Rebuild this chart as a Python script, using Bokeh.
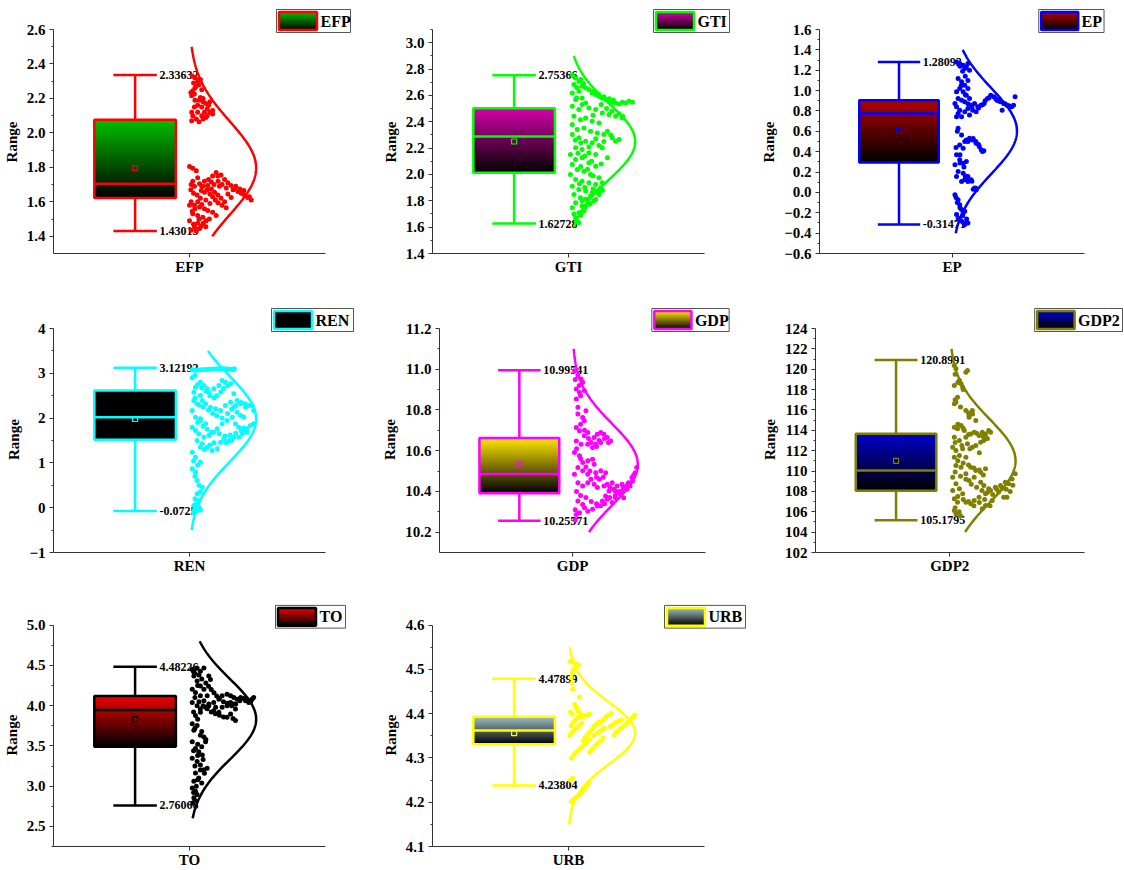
import numpy as np
from bokeh.plotting import figure
from bokeh.layouts import column, row
from bokeh.models import Range1d, FixedTicker, CustomJSTickFormatter
from bokeh.core.properties import value
from bokeh.embed import file_html
from bokeh.resources import INLINE

FONT = "Liberation Serif"

# ---------------- data ----------------
names = ["EFP", "GTI", "EP", "REN", "GDP", "GDP2", "TO", "URB"]
line_colors = ["#FF0000", "#00FF00", "#0000FF", "#00FFFF", "#FF00FF", "#808000", "#000000", "#FFFF00"]
grad_colors = ["#00C000", "#D600AA", "#B00000", "#000000", "#FFE600", "#0000CC", "#EE0000", "#A3C1C3"]

q1 = [1.622, 2.013, 0.293, 1.515, 10.391, 108.06, 3.489, 4.331]
med = [1.705, 2.288, 0.776, 2.020, 10.486, 110.06, 3.946, 4.362]
q3 = [2.076, 2.502, 0.906, 2.616, 10.662, 113.66, 4.121, 4.393]
means = [1.796, 2.250, 0.603, 1.980, 10.532, 111.00, 3.832, 4.356]
mins = [1.43015, 1.62728, -0.31471, -0.0725, 10.25571, 105.1795, 2.76066, 4.23804]
maxs = [2.33632, 2.75366, 1.28092, 3.12192, 10.99541, 120.8991, 4.48226, 4.47899]

curve_sd = [0.27, 0.29, 0.42, 0.95, 0.20, 4.1, 0.50, 0.07]
curve_lo = [1.40, 1.60, -0.40, -0.50, 10.20, 104.0, 2.60, 4.15]
curve_hi = [2.50, 2.90, 1.40, 3.50, 11.10, 122.0, 4.80, 4.55]

axis_lo = [1.3, 1.4, -0.6, -1.0, 10.1, 102.0, 2.25, 4.1]
axis_hi = [2.6, 3.1, 1.6, 4.0, 11.2, 124.0, 5.0, 4.6]
tick_lists = [
    [1.4, 1.6, 1.8, 2.0, 2.2, 2.4, 2.6],
    [1.4, 1.6, 1.8, 2.0, 2.2, 2.4, 2.6, 2.8, 3.0],
    [-0.6, -0.4, -0.2, 0.0, 0.2, 0.4, 0.6, 0.8, 1.0, 1.2, 1.4, 1.6],
    [-1, 0, 1, 2, 3, 4],
    [10.2, 10.4, 10.6, 10.8, 11.0, 11.2],
    [102, 104, 106, 108, 110, 112, 114, 116, 118, 120, 122, 124],
    [2.5, 3.0, 3.5, 4.0, 4.5, 5.0],
    [4.1, 4.2, 4.3, 4.4, 4.5, 4.6],
]
tick_decimals = [1, 1, 1, 0, 1, 0, 1, 1]

# scatter points: (horizontal jitter offset, value)
efp_pts = [(0.010,2.330),(0.020,2.320),(0.030,2.300),(0.035,2.280),(0.025,2.270),(0.012,2.245),(0.018,2.225),(0.008,2.215),
 (0.040,2.205),(0.035,2.190),(0.050,2.180),(0.060,2.170),(0.070,2.160),(0.018,2.150),(0.045,2.150),(0.065,2.140),(0.085,2.130),
 (0.008,2.120),(0.030,2.120),(0.055,2.120),(0.012,2.100),(0.045,2.100),(0.065,2.100),(0.025,2.080),(0.050,2.080),(0.008,2.070),
 (0.035,2.065),(0.085,2.110),(0.075,2.180),(0.005,2.235),(0.020,2.260),(0.040,2.310),
 (0.015,2.290),(0.045,2.250),(0.030,2.160),(0.060,2.090),(0.020,2.190),(0.075,2.120),(0.050,2.200),
 (0.000,1.805),(0.012,1.795),(0.025,1.780),(0.006,1.700),(0.018,1.690),(0.037,1.705),(0.055,1.720),(0.067,1.695),(0.080,1.715),
 (0.098,1.770),(0.104,1.750),(0.116,1.755),(0.129,1.730),(0.141,1.710),(0.153,1.695),(0.165,1.675),(0.178,1.660),(0.190,1.650),
 (0.202,1.640),(0.214,1.625),(0.227,1.610),(0.043,1.665),(0.055,1.655),(0.080,1.675),(0.092,1.655),(0.104,1.640),(0.116,1.620),
 (0.129,1.600),(0.141,1.645),(0.153,1.625),(0.006,1.600),(0.018,1.580),(0.037,1.570),(0.055,1.560),(0.012,1.530),(0.030,1.520),
 (0.049,1.510),(0.067,1.550),(0.085,1.540),(0.098,1.520),(0.018,1.455),(0.037,1.445),(0.006,1.435),(0.025,1.430),(0.043,1.460),
 (0.061,1.490),(0.073,1.500),(0.000,1.490),(0.012,1.720),(0.030,1.740),(0.045,1.690),(0.090,1.700),(0.110,1.690),(0.135,1.680),
 (0.160,1.670),(0.060,1.610),(0.075,1.590),
 (0.005,1.670),(0.015,1.650),(0.028,1.640),(0.040,1.620),(0.050,1.690),(0.065,1.670),(0.075,1.645),(0.085,1.630),(0.095,1.610),
 (0.105,1.595),(0.120,1.580),(0.135,1.565),(0.020,1.560),(0.010,1.545),(0.045,1.585),(0.035,1.500),(0.050,1.475),(0.060,1.455),
 (0.000,1.580),(0.030,1.600),(0.070,1.730),(0.085,1.750),(0.105,1.720),(0.120,1.700),(0.170,1.690),(0.185,1.675),(0.200,1.665),
 (0.220,1.630),(0.030,1.475),(0.015,1.470)]

gti_pts = [(0.014,2.757),(0.026,2.732),(0.038,2.707),(0.020,2.682),(0.050,2.669),(0.063,2.656),(0.075,2.644),(0.038,2.631),
 (0.087,2.618),(0.100,2.606),(0.112,2.593),(0.124,2.581),(0.137,2.568),(0.149,2.555),(0.161,2.548),(0.173,2.543),(0.186,2.535),
 (0.198,2.548),(0.210,2.543),(0.222,2.555),(0.235,2.548),(0.014,2.618),(0.026,2.568),(0.050,2.581),(0.063,2.543),(0.014,2.517),
 (0.038,2.492),(0.075,2.505),(0.100,2.492),(0.124,2.467),(0.149,2.454),(0.173,2.442),(0.198,2.429),(0.020,2.442),(0.044,2.416),
 (0.063,2.429),(0.087,2.404),(0.112,2.391),(0.014,2.379),(0.032,2.341),(0.057,2.353),(0.081,2.328),(0.106,2.315),(0.130,2.303),
 (0.143,2.328),(0.161,2.278),(0.173,2.252),(0.186,2.265),(0.014,2.303),(0.038,2.278),(0.063,2.252),(0.087,2.240),(0.112,2.220),
 (0.124,2.202),(0.026,2.202),(0.050,2.189),(0.075,2.164),(0.100,2.151),(0.007,2.151),(0.026,2.113),(0.050,2.126),(0.075,2.088),
 (0.100,2.063),(0.143,2.126),(0.014,2.076),(0.032,2.038),(0.057,2.025),(0.081,2.000),(0.112,1.975),(0.007,2.000),(0.026,1.962),
 (0.050,1.949),(0.075,1.937),(0.100,1.924),(0.124,1.937),(0.014,1.911),(0.038,1.886),(0.063,1.874),(0.087,1.861),(0.112,1.848),
 (0.020,1.848),(0.044,1.823),(0.069,1.811),(0.093,1.798),(0.026,1.785),(0.050,1.760),(0.075,1.773),(0.014,1.747),(0.038,1.709),
 (0.057,1.722),(0.026,1.672),(0.038,1.634),(0.063,1.811),(0.081,1.836),(0.106,1.874),(0.118,1.899),
 (0.045,2.720),(0.055,2.690),(0.030,2.660),(0.090,2.630),(0.110,2.610),(0.130,2.590),(0.150,2.575),(0.165,2.565),(0.120,2.530),
 (0.140,2.500),(0.160,2.480),(0.185,2.460),(0.200,2.440),(0.030,2.580),(0.050,2.530),(0.090,2.450),(0.025,2.260),(0.045,2.240),
 (0.075,2.210),(0.100,2.270),(0.130,2.250),(0.155,2.300),(0.035,2.160),(0.060,2.140),(0.085,2.100),(0.120,2.080),(0.045,2.060),
 (0.070,2.040),(0.090,1.990),(0.040,1.930),(0.060,1.900),(0.090,1.890),(0.110,1.860),(0.125,1.880),(0.050,1.800),(0.080,1.780),
 (0.100,1.810),(0.060,1.750),(0.045,1.690),(0.020,1.700),(0.030,1.650)]

ep_pts = [(0.017,1.281),(0.029,1.265),(0.042,1.248),(0.054,1.232),(0.060,1.265),(0.048,1.216),(0.066,1.200),(0.023,1.118),
 (0.036,1.086),(0.048,1.053),(0.060,1.020),(0.029,1.020),(0.042,0.988),(0.054,0.955),(0.066,0.923),(0.017,0.988),(0.023,0.923),
 (0.036,0.906),(0.048,0.890),(0.011,0.874),(0.017,0.841),(0.029,0.808),(0.023,0.776),(0.036,0.743),(0.017,0.743),(0.048,0.792),
 (0.060,0.825),(0.072,0.857),(0.085,0.874),(0.097,0.841),(0.109,0.857),(0.121,0.874),(0.134,0.923),(0.146,0.955),(0.158,0.939),
 (0.170,0.906),(0.183,0.890),(0.195,0.874),(0.207,0.857),(0.219,0.841),(0.232,0.857),(0.238,0.939),(0.189,0.808),(0.078,0.808),
 (0.091,0.792),(0.066,0.760),
 (0.100,0.830),(0.115,0.860),(0.125,0.900),(0.140,0.930),(0.165,0.920),(0.175,0.900),(0.200,0.870),(0.215,0.850),(0.225,0.840),
 (0.030,1.240),(0.040,1.190),(0.050,1.140),(0.060,1.100),(0.035,1.050),(0.050,0.960),(0.060,0.870),(0.075,0.840),
 (0.036,0.564),(0.048,0.499),(0.029,0.466),(0.042,0.434),(0.054,0.515),(0.066,0.531),(0.078,0.515),(0.091,0.483),(0.103,0.450),
 (0.115,0.401),(0.017,0.369),(0.029,0.320),(0.042,0.287),(0.054,0.303),(0.011,0.271),(0.023,0.206),(0.042,0.189),(0.060,0.157),
 (0.072,0.124),(0.085,0.043),(0.091,0.026),(0.017,0.157),(0.036,0.108),(0.048,0.124),(0.060,0.108),(0.020,0.600),(0.015,0.440),
 (0.030,0.370),(0.023,0.629),
 (0.060,0.500),(0.070,0.520),(0.080,0.530),(0.090,0.500),(0.100,0.470),(0.110,0.420),(0.120,0.410),(0.030,0.290),(0.045,0.250),
 (0.050,0.160),(0.065,0.120),(0.075,0.110),(0.080,0.030),(0.090,0.040),
 (0.011,-0.023),(0.023,-0.071),(0.029,-0.120),(0.036,-0.169),(0.042,-0.202),(0.048,-0.186),(0.023,-0.251),(0.036,-0.283),
 (0.048,-0.316),(0.060,-0.300),(0.017,-0.218),(0.015,-0.050),(0.020,-0.100),(0.030,-0.150),(0.040,-0.230),(0.030,-0.270),
 (0.055,-0.260),(0.045,-0.300)]

ren_pts = [(0.010,3.080),(0.020,3.070),(0.030,3.075),(0.040,3.080),(0.050,3.080),(0.060,3.085),(0.070,3.090),(0.080,3.090),
 (0.090,3.095),(0.100,3.100),(0.110,3.100),(0.120,3.105),(0.130,3.100),(0.140,3.095),(0.150,3.090),(0.160,3.080),(0.165,3.100),
 (0.040,2.800),(0.053,2.728),(0.065,2.653),(0.022,2.690),(0.016,2.579),(0.040,2.505),(0.071,2.579),(0.089,2.653),(0.108,2.728),
 (0.120,2.840),(0.132,2.800),(0.151,2.765),(0.163,2.542),(0.175,2.393),(0.188,2.319),(0.206,2.244),(0.218,2.281),(0.230,2.281),
 (0.236,2.170),(0.016,2.393),(0.028,2.319),(0.047,2.393),(0.059,2.319),(0.077,2.244),(0.096,2.207),(0.114,2.170),(0.132,2.281),
 (0.151,2.356),(0.163,2.244),(0.175,2.133),(0.188,2.058),(0.200,2.021),(0.010,2.170),(0.022,2.021),(0.040,1.984),(0.010,1.798),
 (0.022,1.723),(0.034,1.649),(0.053,1.575),(0.071,1.612),(0.089,1.686),(0.102,1.761),(0.120,1.872),(0.138,1.947),(0.157,2.021),
 (0.169,1.872),(0.181,1.798),(0.200,1.686),(0.212,1.761),(0.224,1.835),(0.236,1.872),(0.028,1.500),(0.047,1.426),(0.065,1.352),
 (0.083,1.277),(0.102,1.314),(0.114,1.463),(0.126,1.537),(0.145,1.500),(0.163,1.575),(0.181,1.575),(0.194,1.649),(0.212,1.686),
 (0.010,1.240),(0.022,1.128),(0.040,1.017),(0.010,0.868),(0.022,0.794),(0.028,0.607),(0.047,0.459),(0.028,0.310),(0.034,0.161),
 (0.016,0.049),(0.022,-0.025),(0.028,-0.062),(0.016,-0.099),(0.034,0.012),(0.040,1.947),(0.059,1.872),
 (0.030,2.750),(0.045,2.670),(0.060,2.600),(0.075,2.500),(0.090,2.450),(0.100,2.500),(0.115,2.580),(0.125,2.660),(0.140,2.720),
 (0.020,2.450),(0.035,2.290),(0.050,2.250),(0.070,2.180),(0.085,2.100),(0.100,2.050),(0.120,2.000),(0.140,2.100),(0.155,2.200),
 (0.170,2.280),(0.190,2.350),(0.205,2.320),(0.030,1.900),(0.050,1.820),(0.065,1.750),(0.080,1.680),(0.110,1.650),(0.130,1.600),
 (0.150,1.620),(0.170,1.660),(0.190,1.720),(0.200,1.780),(0.040,1.350),(0.055,1.300),(0.075,1.400),(0.090,1.450),(0.135,1.450),
 (0.155,1.500),(0.015,1.050),(0.030,0.950),(0.020,0.700),(0.035,0.500),(0.040,0.350),(0.020,0.200),(0.025,0.080),(0.030,0.030),
 (0.040,-0.050),(0.015,-0.120),(0.010,2.900),(0.020,2.950)]

gdp_pts = [(0.007,10.993),(0.020,10.969),(0.032,10.952),(0.038,10.936),(0.014,10.903),(0.026,10.886),(0.044,10.895),(0.014,10.854),
 (0.020,10.813),(0.050,10.796),(0.038,10.763),(0.044,10.747),(0.014,10.714),(0.026,10.698),(0.057,10.689),(0.044,10.673),
 (0.081,10.665),(0.093,10.681),(0.106,10.689),(0.118,10.681),(0.130,10.665),(0.143,10.648),(0.014,10.648),(0.032,10.632),
 (0.057,10.632),(0.075,10.616),(0.087,10.632),(0.106,10.640),(0.007,10.591),(0.026,10.575),(0.038,10.542),(0.057,10.550),
 (0.075,10.558),(0.081,10.533),(0.020,10.517),(0.038,10.501),(0.057,10.484),(0.069,10.460),(0.087,10.492),(0.106,10.501),
 (0.124,10.492),(0.007,10.484),(0.020,10.443),(0.038,10.427),(0.057,10.443),(0.081,10.435),(0.093,10.419),(0.118,10.427),
 (0.130,10.435),(0.149,10.443),(0.167,10.427),(0.186,10.435),(0.198,10.419),(0.210,10.443),(0.223,10.468),(0.235,10.492),
 (0.241,10.517),(0.161,10.402),(0.180,10.386),(0.192,10.369),(0.137,10.402),(0.124,10.377),(0.112,10.353),(0.093,10.328),
 (0.075,10.312),(0.057,10.303),(0.038,10.336),(0.020,10.353),(0.014,10.287),(0.026,10.295),(0.130,10.361),(0.149,10.345),
 (0.161,10.369),(0.173,10.394),(0.204,10.410),(0.216,10.427),(0.010,10.260),
 (0.010,10.950),(0.025,10.920),(0.030,10.870),(0.020,10.780),(0.030,10.730),(0.045,10.700),(0.060,10.660),(0.070,10.640),
 (0.090,10.620),(0.100,10.650),(0.120,10.660),(0.135,10.640),(0.015,10.610),(0.030,10.560),(0.050,10.520),(0.065,10.500),
 (0.090,10.470),(0.100,10.460),(0.115,10.470),(0.140,10.420),(0.155,10.410),(0.175,10.400),(0.190,10.420),(0.205,10.430),
 (0.225,10.450),(0.230,10.480),(0.015,10.400),(0.030,10.380),(0.050,10.370),(0.070,10.350),(0.090,10.340),(0.105,10.330),
 (0.120,10.340),(0.140,10.370),(0.160,10.380),(0.185,10.400),(0.045,10.320),(0.010,10.310)]

gdp2_pts = [(0.017,120.37),(0.023,120.04),(0.036,118.89),(0.042,118.57),(0.017,118.40),(0.048,118.24),(0.060,119.71),(0.066,119.88),
 (0.023,116.76),(0.017,116.60),(0.029,117.26),(0.060,115.95),(0.072,115.45),(0.084,115.95),(0.017,114.31),(0.029,114.15),
 (0.042,114.47),(0.054,113.98),(0.017,113.33),(0.036,113.00),(0.060,113.33),(0.078,113.65),(0.091,113.82),(0.109,113.49),
 (0.121,113.82),(0.133,113.65),(0.145,113.98),(0.152,113.82),(0.072,115.29),(0.097,114.96),(0.011,112.34),(0.023,112.02),
 (0.048,112.18),(0.066,112.67),(0.084,112.34),(0.097,112.51),(0.115,112.84),(0.127,113.00),(0.133,113.16),(0.017,111.36),
 (0.036,111.53),(0.060,111.36),(0.078,110.38),(0.097,110.05),(0.115,109.89),(0.133,110.22),(0.023,110.54),(0.042,110.38),
 (0.060,109.73),(0.072,109.07),(0.091,109.40),(0.115,108.91),(0.127,108.58),(0.145,108.25),(0.011,109.40),(0.023,108.74),
 (0.036,108.25),(0.048,107.76),(0.017,107.27),(0.029,106.94),(0.011,108.09),(0.060,106.94),(0.078,106.78),(0.091,107.11),
 (0.109,107.43),(0.133,107.76),(0.152,108.09),(0.170,108.42),(0.189,108.58),(0.207,108.91),(0.219,108.74),(0.232,109.23),
 (0.244,109.73),(0.182,107.93),(0.201,107.43),(0.213,107.43),(0.158,107.11),(0.133,106.62),(0.121,106.29),(0.023,105.80),
 (0.017,106.12),
 (0.020,119.50),(0.030,118.70),(0.050,118.00),(0.020,117.00),(0.040,116.30),(0.070,115.70),(0.085,115.60),(0.030,114.60),
 (0.050,114.20),(0.070,113.60),(0.100,113.70),(0.125,113.40),(0.140,113.20),(0.020,112.80),(0.045,112.50),(0.075,112.20),
 (0.110,111.80),(0.030,111.00),(0.050,110.80),(0.070,110.60),(0.090,110.30),(0.110,110.10),(0.125,109.60),(0.020,109.90),
 (0.040,109.50),(0.060,109.20),(0.080,108.70),(0.100,108.40),(0.120,108.10),(0.140,107.90),(0.160,107.70),(0.175,108.20),
 (0.195,108.30),(0.210,108.20),(0.225,108.00),(0.235,108.60),(0.030,107.50),(0.050,107.20),(0.070,107.00),(0.090,106.60),
 (0.110,106.90),(0.130,107.20),(0.150,106.60),(0.020,106.40),(0.035,106.00),(0.040,105.60)]

to_pts = [(0.010,4.449),(0.028,4.469),(0.040,4.428),(0.053,4.469),(0.016,4.367),(0.028,4.306),(0.040,4.244),(0.053,4.204),
 (0.065,4.122),(0.071,4.367),(0.077,4.326),(0.010,4.204),(0.022,4.163),(0.040,4.122),(0.053,4.060),(0.010,4.040),(0.028,3.999),
 (0.040,3.958),(0.059,3.979),(0.071,4.020),(0.089,4.040),(0.108,4.081),(0.120,4.122),(0.138,4.142),(0.151,4.122),(0.163,4.101),
 (0.175,4.081),(0.188,4.101),(0.206,4.060),(0.218,4.040),(0.230,4.081),(0.236,4.101),(0.089,3.938),(0.108,3.918),(0.120,3.979),
 (0.138,3.999),(0.151,4.040),(0.163,4.020),(0.169,3.958),(0.151,3.897),(0.138,3.856),(0.169,3.815),(0.022,3.877),(0.040,3.918),
 (0.010,3.775),(0.028,3.754),(0.016,3.693),(0.040,3.632),(0.053,3.611),(0.059,3.550),(0.010,3.550),(0.022,3.468),(0.034,3.427),
 (0.047,3.386),(0.010,3.346),(0.028,3.305),(0.040,3.264),(0.053,3.203),(0.065,3.223),(0.022,3.162),(0.034,3.100),(0.016,3.060),
 (0.010,2.978),(0.022,2.937),(0.016,2.856),(0.028,2.896),(0.071,3.999),(0.096,3.979),(0.012,2.790),(0.020,4.400),(0.030,4.250),
 (0.015,4.420),(0.035,4.380),(0.045,4.330),(0.060,4.280),(0.070,4.240),(0.080,4.200),(0.090,4.160),(0.100,4.120),(0.110,4.090),
 (0.125,4.050),(0.140,4.030),(0.155,4.000),(0.170,4.020),(0.185,4.060),(0.200,4.090),(0.215,4.070),(0.225,4.050),(0.020,4.100),
 (0.035,4.050),(0.050,4.000),(0.065,3.960),(0.080,3.920),(0.095,3.900),(0.110,3.880),(0.125,3.860),(0.160,3.840),(0.015,3.920),
 (0.030,3.830),(0.020,3.720),(0.045,3.680),(0.060,3.580),(0.030,3.520),(0.045,3.490),(0.015,3.440),(0.030,3.380),(0.050,3.330),
 (0.020,3.250),(0.040,3.200),(0.055,3.160),(0.030,3.080),(0.045,3.040),(0.025,3.000),(0.015,2.920),(0.020,2.820)]

urb_pts = [(0.007,4.518),(0.017,4.516),(0.027,4.513),(0.036,4.510),(0.017,4.499),(0.014,4.492),(0.023,4.502),(0.010,4.481),
 (0.014,4.470),(0.016,4.455),(0.040,4.438),(0.023,4.421),(0.029,4.414),(0.036,4.406),(0.042,4.401),(0.050,4.397),(0.059,4.395),
 (0.069,4.397),(0.077,4.400),(0.007,4.403),(0.014,4.399),(0.010,4.373),(0.017,4.380),(0.026,4.386),(0.034,4.391),(0.044,4.392),
 (0.005,4.352),(0.014,4.358),(0.022,4.364),(0.032,4.369),(0.040,4.374),(0.049,4.379),(0.054,4.339),(0.061,4.346),(0.069,4.352),
 (0.077,4.358),(0.086,4.365),(0.094,4.371),(0.103,4.377),(0.112,4.382),(0.093,4.351),(0.103,4.355),(0.113,4.360),(0.123,4.364),
 (0.132,4.367),(0.118,4.380),(0.127,4.386),(0.137,4.392),(0.147,4.397),(0.157,4.401),(0.154,4.371),(0.164,4.376),(0.174,4.380),
 (0.184,4.383),(0.194,4.386),(0.167,4.352),(0.176,4.358),(0.186,4.364),(0.196,4.369),(0.206,4.374),(0.216,4.380),(0.226,4.386),
 (0.235,4.391),(0.243,4.397),(0.078,4.313),(0.088,4.321),(0.098,4.328),(0.108,4.334),(0.118,4.339),(0.127,4.345),(0.010,4.300),
 (0.020,4.308),(0.029,4.313),(0.039,4.319),(0.049,4.325),(0.059,4.331),(0.069,4.337),(0.078,4.342),(0.007,4.250),(0.015,4.254),
 (0.010,4.202),(0.020,4.206),(0.029,4.211),(0.039,4.217),(0.049,4.223),(0.059,4.230),(0.069,4.239),(0.075,4.245)]

all_pts = [efp_pts, gti_pts, ep_pts, ren_pts, gdp_pts, gdp2_pts, to_pts, urb_pts]

# legend placement (px from the y axis) and box width (px)
legend_off = [223, 221, 225, 218, 217, 222, 222, 232]
legend_w = [74, 76, 67, 82, 79, 89, 70, 81]

# ---------------- layout ----------------
COL_W = [379, 379, 366]
COL_L = [53, 53, 53]
ROW_H = [300, 297, 273]
ROW_AT = [29, 28, 28]     # px of axis top from figure top
ROW_XA = [253, 252, 252]  # px of x axis from figure top
PXU = 272.0               # px per x unit
AMP = 0.245
BOX_L, BOX_R, BOX_C = 0.65, 0.95, 0.80
CAP_L, CAP_R = 0.72, 0.88
NBSP = "\u00a0"


def shade(hexc, t):
    h = hexc.lstrip("#")
    r, g, b = int(h[0:2], 16), int(h[2:4], 16), int(h[4:6], 16)
    return "#%02x%02x%02x" % (int(round(r * t)), int(round(g * t)), int(round(b * t)))


def gradient(p, l, r, b, t, color, n):
    # overlapping bands painted bottom -> top (no seams)
    edges = np.linspace(b, t, n + 1)
    cols = [shade(color, (k + 0.5) / n) for k in range(n)]
    p.quad(left=[l] * n, right=[r] * n, bottom=list(edges[:-1]), top=[t] * n,
           fill_color=cols, line_color=None)


def make_panel(i, c, rw):
    cw, left = COL_W[c], COL_L[c]
    ch, at, xa = ROW_H[rw], ROW_AT[rw], ROW_XA[rw]
    fw = cw - left
    lo, hi = axis_lo[i], axis_hi[i]
    per = (hi - lo) / (xa - at)
    y_end = hi + at * per
    lc, gc = line_colors[i], grad_colors[i]

    p = figure(width=cw, height=ch, x_range=Range1d(0.5, 0.5 + fw / PXU), y_range=Range1d(lo, y_end),
               output_backend="svg", toolbar_location=None,
               min_border_left=left, min_border_right=0, min_border_top=0, min_border_bottom=ch - xa)
    p.outline_line_color = None
    p.xgrid.visible = False
    p.ygrid.visible = False
    p.background_fill_color = "white"
    p.border_fill_color = "white"

    # axes
    ticks = tick_lists[i]
    step = ticks[1] - ticks[0]
    minor = [(a + b) / 2 for a, b in zip(ticks[:-1], ticks[1:])]
    if ticks[0] - step / 2 >= lo - 1e-9:
        minor.insert(0, ticks[0] - step / 2)
    if ticks[-1] + step / 2 <= hi + 1e-9:
        minor.append(ticks[-1] + step / 2)
    ya = p.yaxis[0]
    ya.bounds = (lo, hi)
    ya.ticker = FixedTicker(ticks=ticks, minor_ticks=minor)
    ya.formatter = CustomJSTickFormatter(args=dict(d=tick_decimals[i]),
                                         code="return tick.toFixed(d).replace('-', '\u2212');")
    # centre the label on the drawn axis (frame is taller than the axis)
    shift = (at + xa) / 2.0 - xa / 2.0
    ya.axis_label = "Range" + NBSP * int(round(2 * shift / 3.75))
    xa_ = p.xaxis[0]
    xa_.bounds = (0.5, 1.5)
    xa_.ticker = FixedTicker(ticks=[1], minor_ticks=[])
    xa_.formatter = CustomJSTickFormatter(args=dict(n=names[i]), code="return n;")
    for ax in (ya, xa_):
        ax.axis_line_color = "#333333"
        ax.axis_line_width = 1
        ax.major_tick_line_color = "#333333"
        ax.minor_tick_line_color = "#333333"
        ax.major_tick_in = 0
        ax.major_tick_out = 4
        ax.minor_tick_in = 0
        ax.minor_tick_out = 2
        ax.major_label_text_font = FONT
        ax.major_label_text_font_style = "bold"
        ax.major_label_text_font_size = "15px"
        ax.major_label_text_color = "black"
        ax.axis_label_text_font = FONT
        ax.axis_label_text_font_style = "bold"
        ax.axis_label_text_font_size = "15px"
        ax.axis_label_text_color = "black"
    ya.major_label_standoff = 4
    ya.axis_label_standoff = 4
    xa_.major_label_standoff = 1

    # box
    gradient(p, BOX_L, BOX_R, q1[i], q3[i], gc, 60)
    p.quad(left=[BOX_L], right=[BOX_R], bottom=[q1[i]], top=[q3[i]], fill_color=None,
           line_color=lc, line_width=2.5)
    p.segment(x0=[BOX_L, BOX_C, BOX_C, CAP_L, CAP_L], y0=[med[i], q3[i], q1[i], maxs[i], mins[i]],
              x1=[BOX_R, BOX_C, BOX_C, CAP_R, CAP_R], y1=[med[i], maxs[i], mins[i], maxs[i], mins[i]],
              line_color=lc, line_width=2.5)
    p.scatter(x=[BOX_C], y=[means[i]], marker="square", size=5, fill_color=None,
              line_color=lc, line_width=1.2)
    p.text(x=[CAP_R + 0.01, CAP_R + 0.01], y=[maxs[i], mins[i]], text=[str(maxs[i]), str(mins[i])],
           text_font=value(FONT), text_font_style="bold", text_font_size="12px",
           text_baseline="middle", text_align="left", text_color="black")

    # points
    pts = all_pts[i]
    p.scatter(x=[1 + d for d, _ in pts], y=[v for _, v in pts], marker="circle", size=5,
              fill_color=lc, line_color=None)

    # normal curve
    ys = np.linspace(curve_lo[i], curve_hi[i], 240)
    xs = 1 + AMP * np.exp(-0.5 * ((ys - means[i]) / curve_sd[i]) ** 2)
    p.line(x=xs, y=ys, line_color=lc, line_width=2.5)

    # legend
    def px_x(px):
        return 0.5 + px / PXU

    def px_y(py):
        return y_end - py * per

    off, w = legend_off[i], legend_w[i]
    bl, br = px_x(off), px_x(off + w)
    bt, bb = px_y(at - 20), px_y(at + 3)
    p.quad(left=[bl], right=[br], top=[bt], bottom=[bb], fill_color="white",
           line_color="#555555", line_width=1)
    sl, sr = px_x(off + 2.5), px_x(off + 40.5)
    st, sb = px_y(at - 17.5), px_y(at + 0.5)
    gradient(p, sl, sr, sb, st, gc, 16)
    p.quad(left=[sl], right=[sr], top=[st], bottom=[sb], fill_color=None,
           line_color=lc, line_width=2.5)
    p.text(x=[px_x(off + 44)], y=[(bt + bb) / 2], text=[names[i]], text_font=value(FONT),
           text_font_style="bold", text_font_size="16px", text_baseline="middle",
           text_align="left", text_color="black")
    return p


grid = [(0, 0, 0), (1, 1, 0), (2, 2, 0), (3, 0, 1), (4, 1, 1), (5, 2, 1), (6, 0, 2), (7, 1, 2)]
figs = [make_panel(i, c, r) for i, c, r in grid]
layout = column(row(*figs[0:3]), row(*figs[3:6]), row(*figs[6:8]))

open("out.html", "w").write(file_html(layout, INLINE))
